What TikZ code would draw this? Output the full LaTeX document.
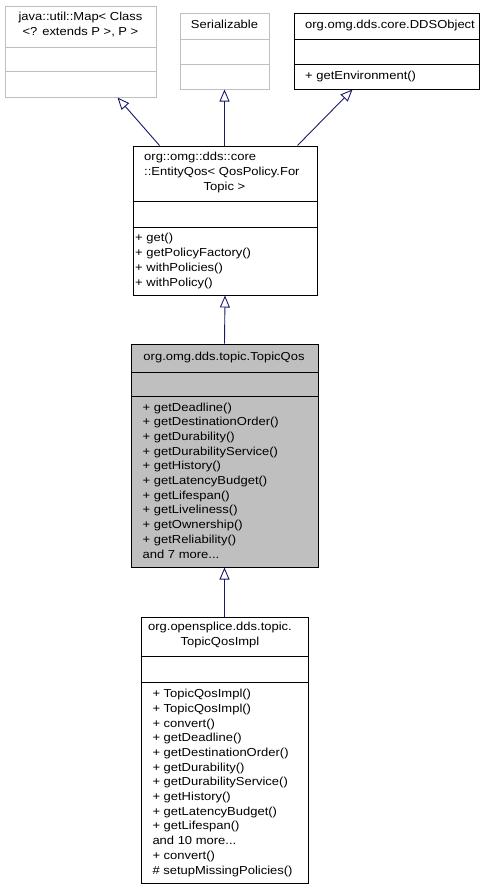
\documentclass[tikz,border=0pt]{standalone}
\usepackage{fontspec}
\setmainfont[FakeStretch=1.12]{Liberation Sans}
\usepackage{xcolor}
\usetikzlibrary{arrows.meta}
\definecolor{navyline}{RGB}{25,25,112}
\definecolor{boxgray}{RGB}{191,191,191}

\begin{document}
\begin{tikzpicture}[x=1pt,y=-1pt,
    every node/.style={font=\fontsize{11.6}{14.7}\selectfont, inner sep=0pt},
    classbox/.style={draw, line width=1pt, minimum width=#1},
    member/.style={anchor=base west, align=left},
    title/.style={anchor=base, align=center},
    inherit/.style={draw=navyline, line width=0.9pt, -{Triangle[open, length=12pt, width=10pt]}}]
    \useasboundingbox (0,0) rectangle (494,889);
    % parent classes (y of a multi-line text is the base of its last line)
    \node[classbox=151, minimum height=91, draw=boxgray] (map) at (80.5,51.5) {};
    \draw[boxgray, line width=1pt] (map.west |- 0,47) -- (map.east |- 0,47);
    \draw[boxgray, line width=1pt] (map.west |- 0,71) -- (map.east |- 0,71);
    \node[title] (mapname) at (80.5,35.4) {java::util::Map< Class\\<? extends P >, P >};
    \node[classbox=89, minimum height=76, draw=boxgray] (ser) at (224.5,51) {};
    \draw[boxgray, line width=1pt] (ser.west |- 0,39) -- (ser.east |- 0,39);
    \draw[boxgray, line width=1pt] (ser.west |- 0,64) -- (ser.east |- 0,64);
    \node[title] (sername) at (224.5,28.3) {Serializable};
    \node[classbox=185, minimum height=76] (dds) at (386.5,51) {};
    \draw[line width=1pt] (dds.west |- 0,39) -- (dds.east |- 0,39);
    \draw[line width=1pt] (dds.west |- 0,64) -- (dds.east |- 0,64);
    \node[title] (ddsname) at (390,28.3) {org.omg.dds.core.DDSObject};
    \node[member] (ddsops) at (305,79.3) {+ getEnvironment()};
    % EntityQos
    \node[classbox=184, minimum height=149] (entity) at (225,220.5) {};
    \draw[line width=1pt] (entity.west |- 0,201) -- (entity.east |- 0,201);
    \draw[line width=1pt] (entity.west |- 0,227) -- (entity.east |- 0,227);
    \node[member] (entityname) at (144,175.5) {org::omg::dds::core\\::EntityQos< QosPolicy.For};
    \node[title] (entityname2) at (224.5,190) {Topic >};
    \node[member] (entityops) at (135,286) {+ get()\\+ getPolicyFactory()\\+ withPolicies()\\+ withPolicy()};
    % TopicQos
    \node[classbox=187, minimum height=223, fill=boxgray] (topic) at (224.5,455.5) {};
    \draw[line width=1pt] (topic.west |- 0,372) -- (topic.east |- 0,372);
    \draw[line width=1pt] (topic.west |- 0,396) -- (topic.east |- 0,396);
    \node[title] (topicname) at (224,360.7) {org.omg.dds.topic.TopicQos};
    \node[member] (topicops) at (142.5,558) {+ getDeadline()\\+ getDestinationOrder()\\+ getDurability()\\+ getDurabilityService()\\+ getHistory()\\+ getLatencyBudget()\\+ getLifespan()\\+ getLiveliness()\\+ getOwnership()\\+ getReliability()\\and 7 more...};
    % TopicQosImpl
    \node[classbox=167, minimum height=266] (impl) at (224.5,750) {};
    \draw[line width=1pt] (impl.west |- 0,656) -- (impl.east |- 0,656);
    \draw[line width=1pt] (impl.west |- 0,682) -- (impl.east |- 0,682);
    \node[title] (implname) at (220,645) {org.opensplice.dds.topic.\\TopicQosImpl};
    \node[member] (implops) at (152.3,874) {+ TopicQosImpl()\\+ TopicQosImpl()\\+ convert()\\+ getDeadline()\\+ getDestinationOrder()\\+ getDurability()\\+ getDurabilityService()\\+ getHistory()\\+ getLatencyBudget()\\+ getLifespan()\\and 10 more...\\+ convert()\\\# setupMissingPolicies()};
    % inheritance
    \draw[inherit] ([xshift=27pt]entity.north west) -- ([xshift=113pt]map.south west);
    \draw[inherit] (ser.south |- entity.north) -- (ser.south);
    \draw[inherit] ([xshift=165pt]entity.north west) -- ([xshift=59pt]dds.south west);
    \draw[inherit] (topic.north) -- (entity.south);
    \draw[inherit] (impl.north) -- (topic.south);
\end{tikzpicture}
\end{document}
